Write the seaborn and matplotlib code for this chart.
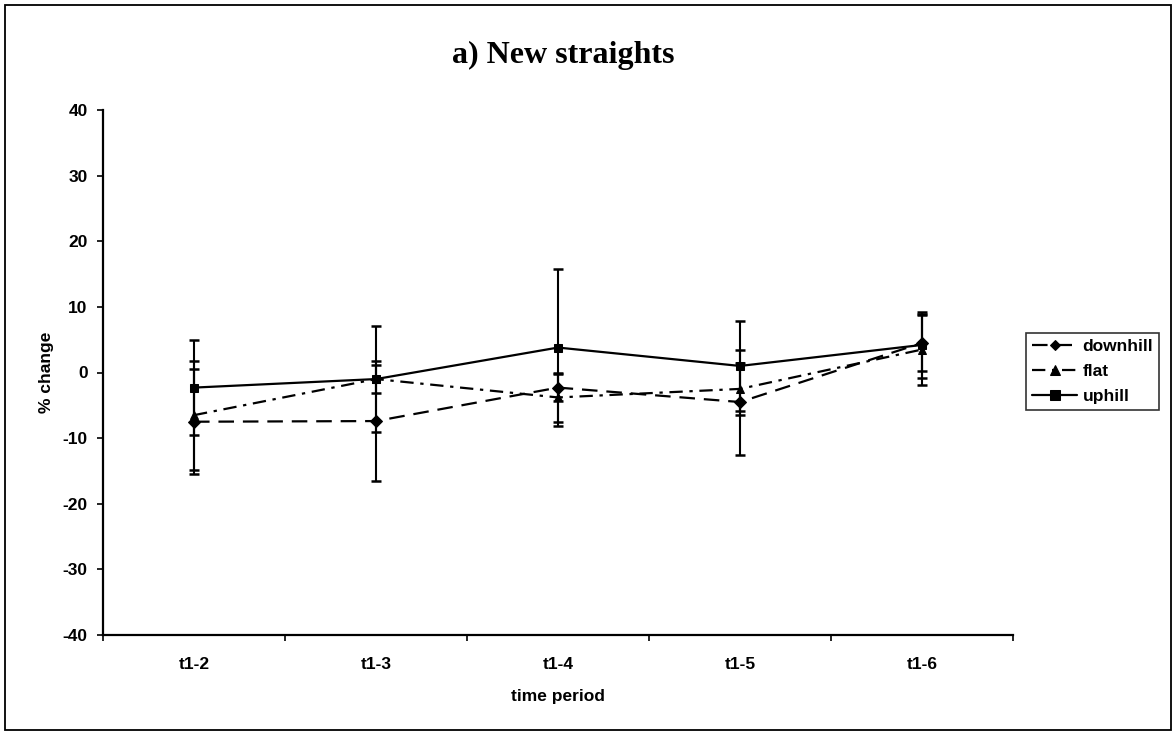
import numpy as np
import pandas as pd
import matplotlib
matplotlib.use("Agg")
import matplotlib.pyplot as plt
import seaborn as sns
from matplotlib.patches import Rectangle
from matplotlib.ticker import FixedLocator

# Mean % change per time period, with the half-width of each error bar
periods = ["t1-2", "t1-3", "t1-4", "t1-5", "t1-6"]
downhill = [-7.5, -7.4, -2.3, -4.5, 4.5]
downhill_err = [8.0, 9.2, 2.1, 8.0, 4.3]
flat = [-6.5, -1.0, -3.8, -2.5, 3.5]
flat_err = [8.3, 8.1, 3.7, 4.0, 5.4]
uphill = [-2.3, -1.0, 3.8, 1.0, 4.2]
uphill_err = [7.2, 2.1, 12.0, 6.8, 5.0]
y_ticks = [-40, -30, -20, -10, 0, 10, 20, 30, 40]

series = {"downhill": (downhill, downhill_err),
          "flat": (flat, flat_err),
          "uphill": (uphill, uphill_err)}

rows = []
for name, (vals, errs) in series.items():
    for i, (p, v, e) in enumerate(zip(periods, vals, errs)):
        rows.append({"period": p, "pos": i, "pct": v, "err": e, "slope": name})
df = pd.DataFrame(rows)

sns.set_style("white")
plt.rcParams["font.family"] = ["Liberation Sans", "DejaVu Sans"]
plt.rcParams.update({"text.color": "black", "axes.labelcolor": "black",
                     "xtick.color": "black", "ytick.color": "black"})

fig = plt.figure(figsize=(11.76, 7.32), dpi=100)
ax = fig.add_axes([103 / 1176, 97 / 732, 910 / 1176, 525 / 732])

markers = {"downhill": "D", "flat": "^", "uphill": "s"}
dashes = {"downhill": (7, 4), "flat": (6, 3, 1.5, 3), "uphill": ""}
sizes = {"downhill": 5.5, "flat": 6.5, "uphill": 6.5}

sns.lineplot(data=df, x="pos", y="pct", style="slope",
             markers=markers, dashes=dashes, color="black",
             linewidth=1.6, markersize=6, markeredgecolor="black",
             errorbar=None, ax=ax, legend="full")

for name in series:
    sub = df[df["slope"] == name]
    ax.errorbar(sub["pos"], sub["pct"], yerr=sub["err"], fmt="none",
                ecolor="black", elinewidth=1.5, capsize=3.8, capthick=1.8,
                zorder=3)

ax.set_xlim(-0.5, len(periods) - 0.5)
ax.set_ylim(-40, 40)
ax.set_yticks(y_ticks)
ax.set_yticklabels([str(t) for t in y_ticks], fontsize=12.5, fontweight="bold")
ax.set_xticks(range(len(periods)))
ax.set_xticklabels(periods, fontsize=12.5, fontweight="bold")
ax.xaxis.set_minor_locator(FixedLocator(np.arange(-0.5, len(periods), 1.0)))
ax.tick_params(axis="x", which="major", length=0, pad=16)
ax.tick_params(axis="x", which="minor", length=4, width=1.2, direction="out",
               color="black", bottom=True)
ax.tick_params(axis="y", which="major", length=4, width=1.2, direction="out",
               color="black", left=True, pad=7)

for side in ("top", "right"):
    ax.spines[side].set_visible(False)
for side in ("left", "bottom"):
    ax.spines[side].set_color("black")
    ax.spines[side].set_linewidth(1.6)

ax.set_xlabel("time period", fontsize=12.5, fontweight="bold", va="center")
ax.xaxis.set_label_coords(0.5, -61 / 525)
ax.set_ylabel("% change", fontsize=12.5, fontweight="bold", va="center")
ax.yaxis.set_label_coords(-56 / 910, 0.5)

handles, labels = ax.get_legend_handles_labels()
pairs = [(h, l) for h, l in zip(handles, labels) if l in series]
for h, l in pairs:
    h.set_markersize(sizes[l])
leg = ax.legend([h for h, _ in pairs], [l for _, l in pairs],
                loc="upper left", bbox_to_anchor=(923 / 910, 302 / 525),
                frameon=True, fancybox=False, shadow=False,
                prop={"size": 12.5, "weight": "bold"},
                handlelength=2.6, handletextpad=0.3, labelspacing=0.55,
                borderpad=0.35, borderaxespad=0.0)
leg.get_frame().set_edgecolor("black")
leg.get_frame().set_linewidth(1.2)

fig.text(563 / 1176, 1 - 55 / 732, "a) New straights",
         family=["Liberation Serif", "DejaVu Serif"], fontsize=23,
         fontweight="bold", ha="center", va="center", color="black")

fig.patches.append(Rectangle((5 / 1176, 2 / 732), 1166 / 1176, 725 / 732,
                             transform=fig.transFigure, fill=False,
                             edgecolor="black", linewidth=1.3))

fig.savefig("out.png", dpi=100, facecolor="white")
